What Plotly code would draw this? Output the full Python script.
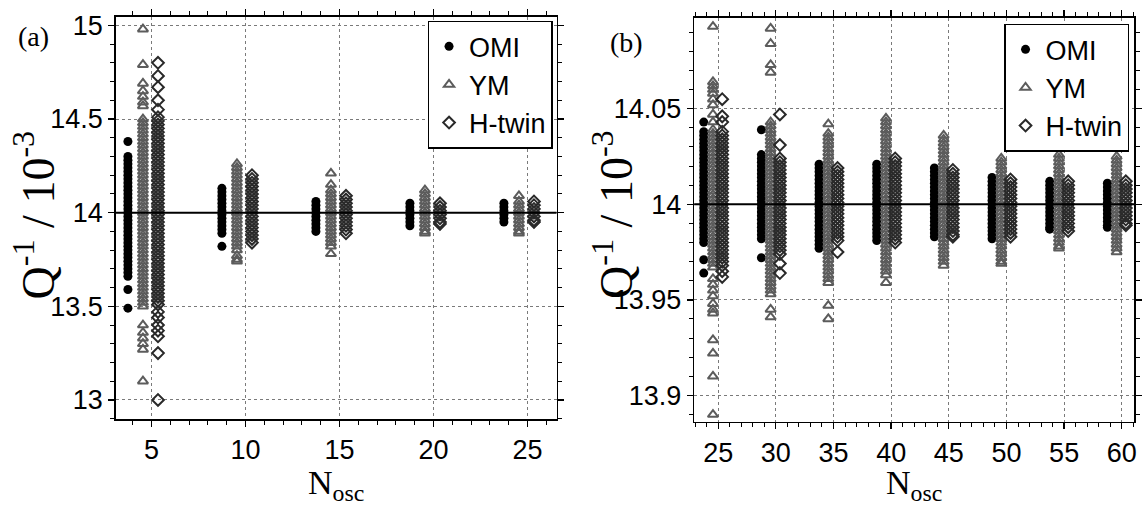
import plotly.graph_objects as go

# ---------------- data ----------------
SERIES = ["OMI", "YM", "H-twin"]
N_A = [5, 10, 15, 20, 25]
N_B = [25, 30, 35, 40, 45, 50, 55, 60]
OFFSETS = [-1.25, -0.45, 0.35]   # horizontal shift of each method around N_osc
REFERENCE = 14.0

A_TICKS_X = [5, 10, 15, 20, 25]
A_TICKS_Y = [13, 13.5, 14, 14.5, 15]
A_TICKTEXT_Y = ["13", "13.5", "14", "14.5", "15"]
B_TICKS_X = [25, 30, 35, 40, 45, 50, 55, 60]
B_TICKS_Y = [13.9, 13.95, 14, 14.05]
B_TICKTEXT_Y = ["13.9", "13.95", "14", "14.05"]

# ---- panel (a) ----
A_OMI_5 = [14.38,
           14.30, 14.28, 14.26, 14.24, 14.22, 14.20, 14.18, 14.16, 14.14, 14.12, 14.10, 14.08, 14.06, 14.04,
           14.02, 14.00, 13.98, 13.96, 13.94, 13.92, 13.90, 13.88, 13.86, 13.84, 13.82, 13.80, 13.78, 13.76,
           13.74, 13.72, 13.70, 13.68, 13.66,
           13.59, 13.49]
A_YM_5 = [14.98, 14.79, 14.69, 14.65, 14.62, 14.59, 14.57,
          14.50, 14.48, 14.46, 14.44, 14.42, 14.40, 14.38, 14.36, 14.34, 14.32, 14.30, 14.28, 14.26, 14.24,
          14.22, 14.20, 14.18, 14.16, 14.14, 14.12, 14.10, 14.08, 14.06, 14.04, 14.02, 14.00, 13.98, 13.96,
          13.94, 13.92, 13.90, 13.88, 13.86, 13.84, 13.82, 13.80, 13.78, 13.76, 13.74, 13.72, 13.70, 13.68,
          13.66, 13.64, 13.62, 13.60, 13.58, 13.56, 13.54, 13.52, 13.50,
          13.40, 13.36, 13.33, 13.30, 13.27, 13.10]
A_HT_5 = [14.80, 14.73, 14.67, 14.60, 14.55,
          14.51, 14.49, 14.47, 14.45, 14.43, 14.41, 14.39, 14.37, 14.35, 14.33, 14.31, 14.29, 14.27, 14.25,
          14.23, 14.21, 14.19, 14.17, 14.15, 14.13, 14.11, 14.09, 14.07, 14.05, 14.03, 14.01, 13.99, 13.97,
          13.95, 13.93, 13.91, 13.89, 13.87, 13.85, 13.83, 13.81, 13.79, 13.77, 13.75, 13.73, 13.71, 13.69,
          13.67, 13.65, 13.63, 13.61, 13.59, 13.57, 13.55, 13.53, 13.51,
          13.47, 13.44, 13.40, 13.37, 13.34, 13.25, 13.00]
A_OMI_10 = [14.13, 14.11, 14.09, 14.07, 14.05, 14.03, 14.01, 13.99, 13.97, 13.95, 13.93, 13.91, 13.89, 13.82]
A_YM_10 = [14.26, 14.24, 14.22, 14.20, 14.18, 14.16, 14.14, 14.12, 14.10, 14.08, 14.06, 14.04, 14.02, 14.00,
           13.98, 13.96, 13.94, 13.92, 13.90, 13.88, 13.86, 13.84, 13.82, 13.80, 13.77, 13.75, 13.74]
A_HT_10 = [14.20, 14.18, 14.16, 14.14, 14.12, 14.10, 14.08, 14.06, 14.04, 14.02, 14.00, 13.98, 13.96, 13.94,
           13.92, 13.90, 13.88, 13.86, 13.84]
A_OMI_15 = [14.06, 14.04, 14.02, 14.00, 13.98, 13.96, 13.94, 13.92, 13.90]
A_YM_15 = [14.21, 14.15, 14.12, 14.10, 14.08, 14.06, 14.04, 14.02, 14.00, 13.98, 13.96, 13.94, 13.92, 13.90,
           13.88, 13.86, 13.84, 13.82, 13.78]
A_HT_15 = [14.09, 14.07, 14.05, 14.03, 14.01, 13.99, 13.97, 13.95, 13.93, 13.91, 13.89]
A_OMI_20 = [14.05, 14.03, 14.01, 13.99, 13.97, 13.95, 13.93]
A_YM_20 = [14.12, 14.10, 14.08, 14.06, 14.04, 14.02, 14.00, 13.98, 13.96, 13.94, 13.92, 13.90, 13.89]
A_HT_20 = [14.05, 14.03, 14.01, 13.99, 13.97, 13.95, 13.94]
A_OMI_25 = [14.05, 14.03, 14.01, 13.99, 13.97, 13.95]
A_YM_25 = [14.09, 14.06, 14.04, 14.02, 14.00, 13.98, 13.96, 13.94, 13.92, 13.90, 13.89]
A_HT_25 = [14.06, 14.04, 14.02, 14.00, 13.98, 13.96, 13.95]

# ---- panel (b) ----
B_OMI_25 = [14.043,
            14.038, 14.036, 14.034, 14.032, 14.030, 14.028, 14.026, 14.024, 14.022, 14.020, 14.018, 14.016,
            14.014, 14.012, 14.010, 14.008, 14.006, 14.004, 14.002, 14.000, 13.998, 13.996, 13.994, 13.992,
            13.990, 13.988, 13.986, 13.984, 13.982, 13.980,
            13.971, 13.964]
B_YM_25 = [14.093, 14.064, 14.062, 14.060, 14.058, 14.055, 14.052, 14.047, 14.043,
           14.039, 14.037, 14.035, 14.033, 14.031, 14.029, 14.027, 14.025, 14.023, 14.021, 14.019, 14.017,
           14.015, 14.013, 14.011, 14.009, 14.007, 14.005, 14.003, 14.001, 13.999, 13.997, 13.995, 13.993,
           13.991, 13.989, 13.987, 13.985, 13.983, 13.981, 13.979, 13.977, 13.975, 13.973, 13.971, 13.969,
           13.967,
           13.961, 13.958, 13.955, 13.952, 13.948, 13.945, 13.943, 13.929, 13.922, 13.910, 13.890]
B_HT_25 = [14.055, 14.046, 14.043,
           14.038, 14.036, 14.034, 14.032, 14.030, 14.028, 14.026, 14.024, 14.022, 14.020, 14.018, 14.016,
           14.014, 14.012, 14.010, 14.008, 14.006, 14.004, 14.002, 14.000, 13.998, 13.996, 13.994, 13.992,
           13.990, 13.988, 13.986, 13.984, 13.982, 13.980, 13.978, 13.976, 13.974, 13.972, 13.970, 13.968,
           13.965, 13.962]
B_OMI_30 = [14.039,
            14.026, 14.024, 14.022, 14.020, 14.018, 14.016, 14.014, 14.012, 14.010, 14.008, 14.006, 14.004,
            14.002, 14.000, 13.998, 13.996, 13.994, 13.992, 13.990, 13.988, 13.986, 13.984, 13.982,
            13.972]
B_YM_30 = [14.092, 14.084, 14.073, 14.069,
           14.043, 14.041, 14.039, 14.037, 14.035, 14.033, 14.031, 14.029, 14.027, 14.025, 14.023, 14.021,
           14.019, 14.017, 14.015, 14.013, 14.011, 14.009, 14.007, 14.005, 14.003, 14.001, 13.999, 13.997,
           13.995, 13.993, 13.991, 13.989, 13.987, 13.985, 13.983, 13.981, 13.979, 13.977, 13.975, 13.973,
           13.971, 13.969, 13.967, 13.965, 13.963, 13.961, 13.959, 13.957, 13.955, 13.953,
           13.945, 13.941]
B_HT_30 = [14.047, 14.031,
           14.024, 14.022, 14.020, 14.018, 14.016, 14.014, 14.012, 14.010, 14.008, 14.006, 14.004, 14.002,
           14.000, 13.998, 13.996, 13.994, 13.992, 13.990, 13.988, 13.986, 13.984, 13.982, 13.980, 13.978,
           13.976, 13.974,
           13.969, 13.964]
B_OMI_35 = [14.021, 14.019, 14.017, 14.015, 14.013, 14.011, 14.009, 14.007, 14.005, 14.003, 14.001, 13.999,
            13.997, 13.995, 13.993, 13.991, 13.989, 13.987, 13.985, 13.983, 13.981, 13.979, 13.977]
B_YM_35 = [14.042,
           14.037, 14.035, 14.033, 14.031, 14.029, 14.027, 14.025, 14.023, 14.021, 14.019, 14.017, 14.015,
           14.013, 14.011, 14.009, 14.007, 14.005, 14.003, 14.001, 13.999, 13.997, 13.995, 13.993, 13.991,
           13.989, 13.987, 13.985, 13.983, 13.981, 13.979, 13.977, 13.975, 13.973, 13.971, 13.969, 13.967,
           13.965, 13.963, 13.961, 13.959,
           13.947, 13.940]
B_HT_35 = [14.019, 14.017, 14.015, 14.013, 14.011, 14.009, 14.007, 14.005, 14.003, 14.001, 13.999, 13.997,
           13.995, 13.993, 13.991, 13.989, 13.987, 13.985, 13.983, 13.981, 13.975]
B_OMI_40 = [14.021, 14.019, 14.017, 14.015, 14.013, 14.011, 14.009, 14.007, 14.005, 14.003, 14.001, 13.999,
            13.997, 13.995, 13.993, 13.991, 13.989, 13.987, 13.985, 13.983, 13.981]
B_YM_40 = [14.045, 14.043, 14.041, 14.039, 14.037, 14.035, 14.033, 14.031, 14.029, 14.027, 14.025, 14.023,
           14.021, 14.019, 14.017, 14.015, 14.013, 14.011, 14.009, 14.007, 14.005, 14.003, 14.001, 13.999,
           13.997, 13.995, 13.993, 13.991, 13.989, 13.987, 13.985, 13.983, 13.981, 13.979, 13.977, 13.975,
           13.973, 13.971, 13.969, 13.967, 13.965, 13.963, 13.959]
B_HT_40 = [14.024, 14.022, 14.020, 14.018, 14.016, 14.014, 14.012, 14.010, 14.008, 14.006, 14.004, 14.002,
           14.000, 13.998, 13.996, 13.994, 13.992, 13.990, 13.988, 13.986, 13.984, 13.982, 13.980]
B_OMI_45 = [14.019, 14.017, 14.015, 14.013, 14.011, 14.009, 14.007, 14.005, 14.003, 14.001, 13.999, 13.997,
            13.995, 13.993, 13.991, 13.989, 13.987, 13.985, 13.983]
B_YM_45 = [14.036, 14.034, 14.032, 14.030, 14.028, 14.026, 14.024, 14.022, 14.020, 14.018, 14.016, 14.014,
           14.012, 14.010, 14.008, 14.006, 14.004, 14.002, 14.000, 13.998, 13.996, 13.994, 13.992, 13.990,
           13.988, 13.986, 13.984, 13.982, 13.980, 13.978, 13.976, 13.974, 13.972, 13.970, 13.968]
B_HT_45 = [14.018, 14.016, 14.014, 14.012, 14.010, 14.008, 14.006, 14.004, 14.002, 14.000, 13.998, 13.996,
           13.994, 13.992, 13.990, 13.988, 13.986, 13.984, 13.983]
B_OMI_50 = [14.014, 14.012, 14.010, 14.008, 14.006, 14.004, 14.002, 14.000, 13.998, 13.996, 13.994, 13.992,
            13.990, 13.988, 13.986, 13.984, 13.982]
B_YM_50 = [14.024, 14.022, 14.020, 14.018, 14.016, 14.014, 14.012, 14.010, 14.008, 14.006, 14.004, 14.002,
           14.000, 13.998, 13.996, 13.994, 13.992, 13.990, 13.988, 13.986, 13.984, 13.982, 13.980, 13.978,
           13.976, 13.974, 13.972, 13.970, 13.969]
B_HT_50 = [14.013, 14.011, 14.009, 14.007, 14.005, 14.003, 14.001, 13.999, 13.997, 13.995, 13.993, 13.991,
           13.989, 13.987, 13.985, 13.983]
B_OMI_55 = [14.012, 14.010, 14.008, 14.006, 14.004, 14.002, 14.000, 13.998, 13.996, 13.994, 13.992, 13.990,
            13.988, 13.987]
B_YM_55 = [14.031, 14.026, 14.024, 14.022, 14.020, 14.018, 14.016, 14.014, 14.012, 14.010, 14.008, 14.006,
           14.004, 14.002, 14.000, 13.998, 13.996, 13.994, 13.992, 13.990, 13.988, 13.986, 13.984, 13.982,
           13.980, 13.978, 13.977]
B_HT_55 = [14.012, 14.010, 14.008, 14.006, 14.004, 14.002, 14.000, 13.998, 13.996, 13.994, 13.992, 13.990,
           13.988, 13.986]
B_OMI_60 = [14.011, 14.009, 14.007, 14.005, 14.003, 14.001, 13.999, 13.997, 13.995, 13.993, 13.991, 13.989,
            13.988]
B_YM_60 = [14.025, 14.023, 14.021, 14.019, 14.017, 14.015, 14.013, 14.011, 14.009, 14.007, 14.005, 14.003,
           14.001, 13.999, 13.997, 13.995, 13.993, 13.991, 13.989, 13.987, 13.985, 13.983, 13.981, 13.979,
           13.977, 13.975]
B_HT_60 = [14.012, 14.010, 14.008, 14.006, 14.004, 14.002, 14.000, 13.998, 13.996, 13.994, 13.992, 13.990,
           13.989]

PANEL_A = {
    "OMI": [A_OMI_5, A_OMI_10, A_OMI_15, A_OMI_20, A_OMI_25],
    "YM": [A_YM_5, A_YM_10, A_YM_15, A_YM_20, A_YM_25],
    "H-twin": [A_HT_5, A_HT_10, A_HT_15, A_HT_20, A_HT_25],
}
PANEL_B = {
    "OMI": [B_OMI_25, B_OMI_30, B_OMI_35, B_OMI_40, B_OMI_45, B_OMI_50, B_OMI_55, B_OMI_60],
    "YM": [B_YM_25, B_YM_30, B_YM_35, B_YM_40, B_YM_45, B_YM_50, B_YM_55, B_YM_60],
    "H-twin": [B_HT_25, B_HT_30, B_HT_35, B_HT_40, B_HT_45, B_HT_50, B_HT_55, B_HT_60],
}

# ---------------- styles ----------------
STYLE = {
    "OMI": dict(symbol="circle", color="#000000", size=9, line=dict(width=0)),
    "YM": dict(symbol="triangle-up-open", color="#5c5c5c", size=9, line=dict(width=2, color="#5c5c5c")),
    "H-twin": dict(symbol="diamond-open", color="#2a2a2a", size=9, line=dict(width=2, color="#2a2a2a")),
}
SANS = "Liberation Sans, Arial, sans-serif"
SERIF = "Liberation Serif, Times New Roman, serif"

fig = go.Figure()


def add_panel(panel, ns, xa, ya, legend):
    for k, name in enumerate(SERIES):
        xs, ys = [], []
        for n, vals in zip(ns, panel[name]):
            xs += [n + OFFSETS[k]] * len(vals)
            ys += vals
        fig.add_trace(go.Scatter(x=xs, y=ys, mode="markers", name=name, xaxis=xa, yaxis=ya,
                                 legend=legend, marker=STYLE[name], showlegend=True))


add_panel(PANEL_A, N_A, "x", "y", "legend")
add_panel(PANEL_B, N_B, "x2", "y2", "legend2")

W, H = 1147, 514
YDOM_A = [(H - 418.3) / H, (H - 10.7) / H]
YDOM_B = [(H - 420.7) / H, (H - 11.7) / H]
XDOM_A = [116 / W, 558 / W]
XDOM_B = [696 / W, 1137 / W]


def axis_common(**kw):
    d = dict(showline=True, linecolor="black", linewidth=1.5, mirror="ticks",
             ticks="outside", ticklen=6, tickwidth=1.3, tickcolor="black",
             showgrid=True, gridcolor="#7a7a7a", gridwidth=1, griddash="dot",
             zeroline=False, tickfont=dict(family=SANS, size=27, color="black"))
    d.update(kw)
    return d


MINOR = dict(ticks="outside", ticklen=4, tickcolor="black", tickwidth=1, showgrid=False)

fig.update_layout(
    width=W, height=H, margin=dict(l=0, r=0, t=0, b=0),
    paper_bgcolor="white", plot_bgcolor="white",
    xaxis=axis_common(domain=XDOM_A, range=[3.1, 26.55], anchor="y", tickmode="array", tickvals=A_TICKS_X,
                      minor=dict(MINOR, dtick=1, tick0=0)),
    yaxis=axis_common(domain=YDOM_A, range=[12.896, 15.047], anchor="x", tickmode="array",
                      tickvals=A_TICKS_Y, ticktext=A_TICKTEXT_Y, minor=dict(MINOR, dtick=0.1, tick0=13)),
    xaxis2=axis_common(domain=XDOM_B, range=[22.92, 61.06], anchor="y2", tickmode="array", tickvals=B_TICKS_X,
                       minor=dict(MINOR, dtick=1, tick0=0)),
    yaxis2=axis_common(domain=YDOM_B, range=[13.8862, 14.0977], anchor="x2", tickmode="array",
                       tickvals=B_TICKS_Y, ticktext=B_TICKTEXT_Y, minor=dict(MINOR, dtick=0.01, tick0=13.9)),
    legend=dict(x=554 / W, y=(H - 15) / H, xanchor="right", yanchor="top",
                bgcolor="white", bordercolor="black", borderwidth=1.5,
                font=dict(family=SANS, size=27, color="black"), tracegroupgap=0, itemwidth=30),
    legend2=dict(x=1132 / W, y=(H - 18) / H, xanchor="right", yanchor="top",
                 bgcolor="white", bordercolor="black", borderwidth=1.5,
                 font=dict(family=SANS, size=27, color="black"), tracegroupgap=0, itemwidth=30),
    showlegend=True,
)

# reference line at Q^-1 = 14e-3
for xr, yr in [("x", "y"), ("x2", "y2")]:
    fig.add_shape(type="line", xref=f"{xr} domain", yref=yr, x0=0, x1=1, y0=REFERENCE, y1=REFERENCE,
                  line=dict(color="black", width=2))

ann = []
for xc in [34, 614]:
    ann.append(dict(x=xc / W, y=(H - 211) / H, xref="paper", yref="paper", textangle=-90,
                    text="Q<sup>-1</sup> / 10<sup>-3</sup>", showarrow=False, xanchor="center", yanchor="middle",
                    font=dict(family=SERIF, size=46, color="black")))
for xc in [337, 916]:
    ann.append(dict(x=xc / W, y=(H - 485) / H, xref="paper", yref="paper",
                    text="N<sub>osc</sub>", showarrow=False, xanchor="center", yanchor="middle",
                    font=dict(family=SERIF, size=34, color="black")))
ann.append(dict(x=34 / W, y=(H - 31) / H, xref="paper", yref="paper", text="(a)", showarrow=False,
                xanchor="center", yanchor="middle", font=dict(family=SERIF, size=28, color="black")))
ann.append(dict(x=628 / W, y=(H - 37) / H, xref="paper", yref="paper", text="(b)", showarrow=False,
                xanchor="center", yanchor="middle", font=dict(family=SERIF, size=28, color="black")))
fig.update_layout(annotations=ann)

# remove the browser's default 8px page margin so the figure sits at the window's top-left corner
fig.write_html("out.html", config={"displayModeBar": False, "staticPlot": True},
               post_script="document.body.style.margin='0px';document.body.style.overflow='hidden';")
